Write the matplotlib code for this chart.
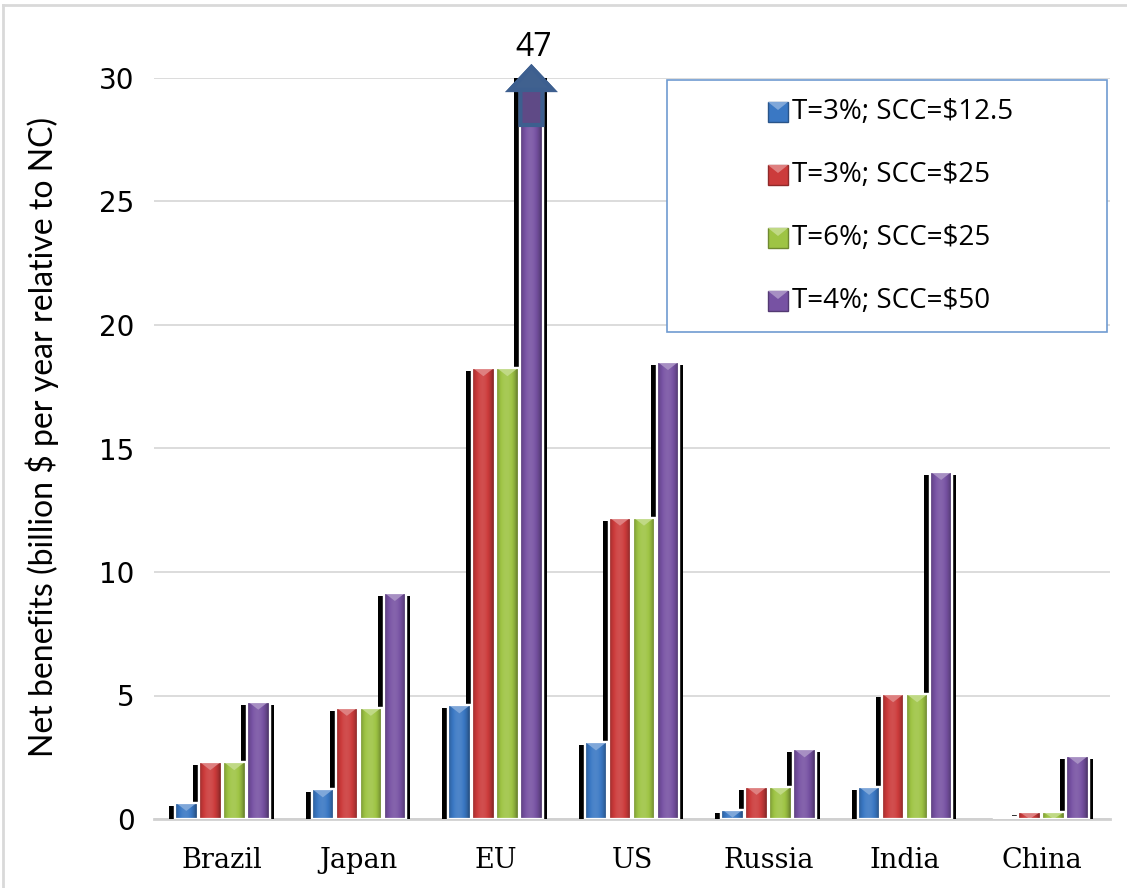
import numpy as np
import matplotlib.pyplot as plt
from matplotlib.patches import Rectangle, Polygon
from matplotlib.lines import Line2D
from matplotlib.colors import to_rgb

countries = ['Brazil', 'Japan', 'EU', 'US', 'Russia', 'India', 'China']
series = ['T=3%; SCC=$12.5', 'T=3%; SCC=$25', 'T=6%; SCC=$25', 'T=4%; SCC=$50']
t3_scc125 = [0.65, 1.2, 4.6, 3.1, 0.38, 1.3, 0.1]
t3_scc25 = [2.3, 4.5, 18.25, 12.2, 1.3, 5.05, 0.28]
t6_scc25 = [2.3, 4.5, 18.25, 12.2, 1.3, 5.05, 0.28]
t4_scc50 = [4.75, 9.15, 47, 18.5, 2.82, 14.05, 2.55]
values = [t3_scc125, t3_scc25, t6_scc25, t4_scc50]
colors = ['#3a78c4', '#cc3b3b', '#9ec444', '#7752a3']
ymax = 30

W, H = 1127, 888
fig = plt.figure(figsize=(W / 100, H / 100), dpi=100)
ax = fig.add_axes([154 / W, 1 - 819 / H, 956 / W, 741 / H])
ax.set_xlim(0, len(countries))
ax.set_ylim(0, ymax)

# px -> data helpers
px_x = 1 / 136.6
px_y = ymax / 741


def shade(rgb, f):
    rgb = np.array(rgb)
    if f < 1:
        return rgb * f
    return rgb + (1 - rgb) * (f - 1)


def gradient(color, n=40):
    rgb = to_rgb(color)
    t = np.linspace(0, 1, n)
    f = 0.68 + 0.42 * np.sin(np.pi * np.clip(t * 1.1, 0, 1)) ** 0.7
    return np.array([[shade(rgb, v) for v in f]])


pitch = 24 * px_x
bw = 22.5 * px_x
for i, (vals, col) in enumerate(zip(values, colors)):
    offs = (i - 1.5) * pitch
    img = gradient(col)
    light = shade(to_rgb(col), 1.35)
    for j, v in enumerate(vals):
        x0 = j + 0.5 + offs - bw / 2
        # drop shadow behind the bar
        sh = max(v - 3 * px_y, 0)
        ax.add_patch(Rectangle((x0 - 6 * px_x, 0), bw + 10 * px_x, sh,
                               facecolor='black', edgecolor='none', zorder=2))
        bar = Rectangle((x0, 0), bw, v, facecolor=col, edgecolor='white',
                        linewidth=1.6, zorder=4)
        ax.add_patch(bar)
        im = ax.imshow(img, extent=(x0, x0 + bw, 0, min(v, ymax)),
                       aspect='auto', zorder=4.5, interpolation='bilinear')
        im.set_clip_path(bar)
        # bevel at the top of the bar
        bev = min(8 * px_y, v)
        ax.add_patch(Polygon([(x0 + 1 * px_x, v), (x0 + bw - 1 * px_x, v),
                              (x0 + bw / 2, v - bev)],
                             closed=True, facecolor=light, edgecolor='none',
                             zorder=5))
        ax.add_patch(Rectangle((x0, 0), bw, v, facecolor='none',
                               edgecolor='white', linewidth=1.6, zorder=6))

ax.set_xlim(0, len(countries))
ax.set_ylim(0, ymax)

# arrow marking the EU value that runs off the scale
eu = countries.index('EU')
xc = eu + 0.5 + 1.5 * pitch
hw, sw = 21.5 * px_x, 11 * px_x
y_tip, y_head, y_tail = ymax + 11 * px_y, ymax - 12 * px_y, ymax - 47 * px_y
ax.add_patch(Polygon([(xc - sw, y_tail), (xc - sw, y_head), (xc - hw, y_head),
                      (xc, y_tip), (xc + hw, y_head), (xc + sw, y_head),
                      (xc + sw, y_tail)], closed=True, facecolor='#5f4a86',
                     edgecolor='#3d5f8f', linewidth=3, zorder=8, clip_on=False))
ax.add_patch(Polygon([(xc - hw, y_head), (xc, y_tip), (xc + hw, y_head)],
                     closed=True, facecolor='#40618f', edgecolor='#3d5f8f',
                     linewidth=3, zorder=9, clip_on=False))
ax.text(xc + 2 * px_x, ymax + 30 * px_y, str(t4_scc50[eu]), ha='center',
        va='center', fontsize=23, family='Open Sans', clip_on=False, zorder=10)

ax.set_yticks(range(0, 31, 5))
ax.set_xticks(np.arange(len(countries)) + 0.5)
ax.set_xticklabels(countries, family='DejaVu Serif', fontsize=19.5)
ax.tick_params(axis='x', length=0, pad=20)
ax.tick_params(axis='y', length=0, pad=14, labelsize=20)
for lab in ax.get_yticklabels():
    lab.set_family('DejaVu Sans')
ax.grid(axis='y', color='#d9d9d9', linewidth=1.3, zorder=0)
ax.set_axisbelow(True)
for s in ['top', 'right', 'left']:
    ax.spines[s].set_visible(False)
ax.spines['bottom'].set_color('#d0d0d0')
ax.spines['bottom'].set_linewidth(2)
ax.spines['bottom'].set_zorder(1)

fig.text(42 / W, 1 - 437 / H,
         'Net benefits (billion $ per year relative to NC)',
         rotation=90, ha='center', va='center', fontsize=23,
         family=['Liberation Sans Narrow', 'Lato'])

# legend box
lx0, ly0 = (667 - 154) / 956, (819 - 332) / 741
ax.add_patch(Rectangle((lx0, ly0), (1107 - 667) / 956, (332 - 80) / 741,
                       transform=ax.transAxes, facecolor='white',
                       edgecolor='#6f9bd1', linewidth=1.2, zorder=11,
                       clip_on=False))
for k, (name, col) in enumerate(zip(series, colors)):
    yc = 112 + 63 * k
    ya = (819 - yc) / 741
    mx0, my0 = (768 - 154) / 956, ya - 10 / 741
    mw, mh = 20 / 956, 20 / 741
    ax.add_patch(Rectangle((mx0, my0), mw, mh, transform=ax.transAxes,
                           facecolor=col, edgecolor=shade(to_rgb(col), 0.7),
                           linewidth=1, zorder=12, clip_on=False))
    ax.add_patch(Polygon([(mx0, my0 + mh), (mx0 + mw, my0 + mh),
                          (mx0 + mw / 2, my0 + mh * 0.6)],
                         transform=ax.transAxes, facecolor=shade(to_rgb(col), 1.35),
                         edgecolor='none', zorder=13, clip_on=False))
    ax.text((792 - 154) / 956, ya, name, transform=ax.transAxes, ha='left',
            va='center', fontsize=20, family='Open Sans', zorder=12)

# thin frame around the chart area
fig.add_artist(Line2D([3 / W, 1], [1 - 5 / H, 1 - 5 / H], color='#d9d9d9',
                      linewidth=2, transform=fig.transFigure))
fig.add_artist(Line2D([3 / W, 3 / W], [0, 1 - 5 / H], color='#d9d9d9',
                      linewidth=2, transform=fig.transFigure))

fig.savefig('out.png', dpi=100)
